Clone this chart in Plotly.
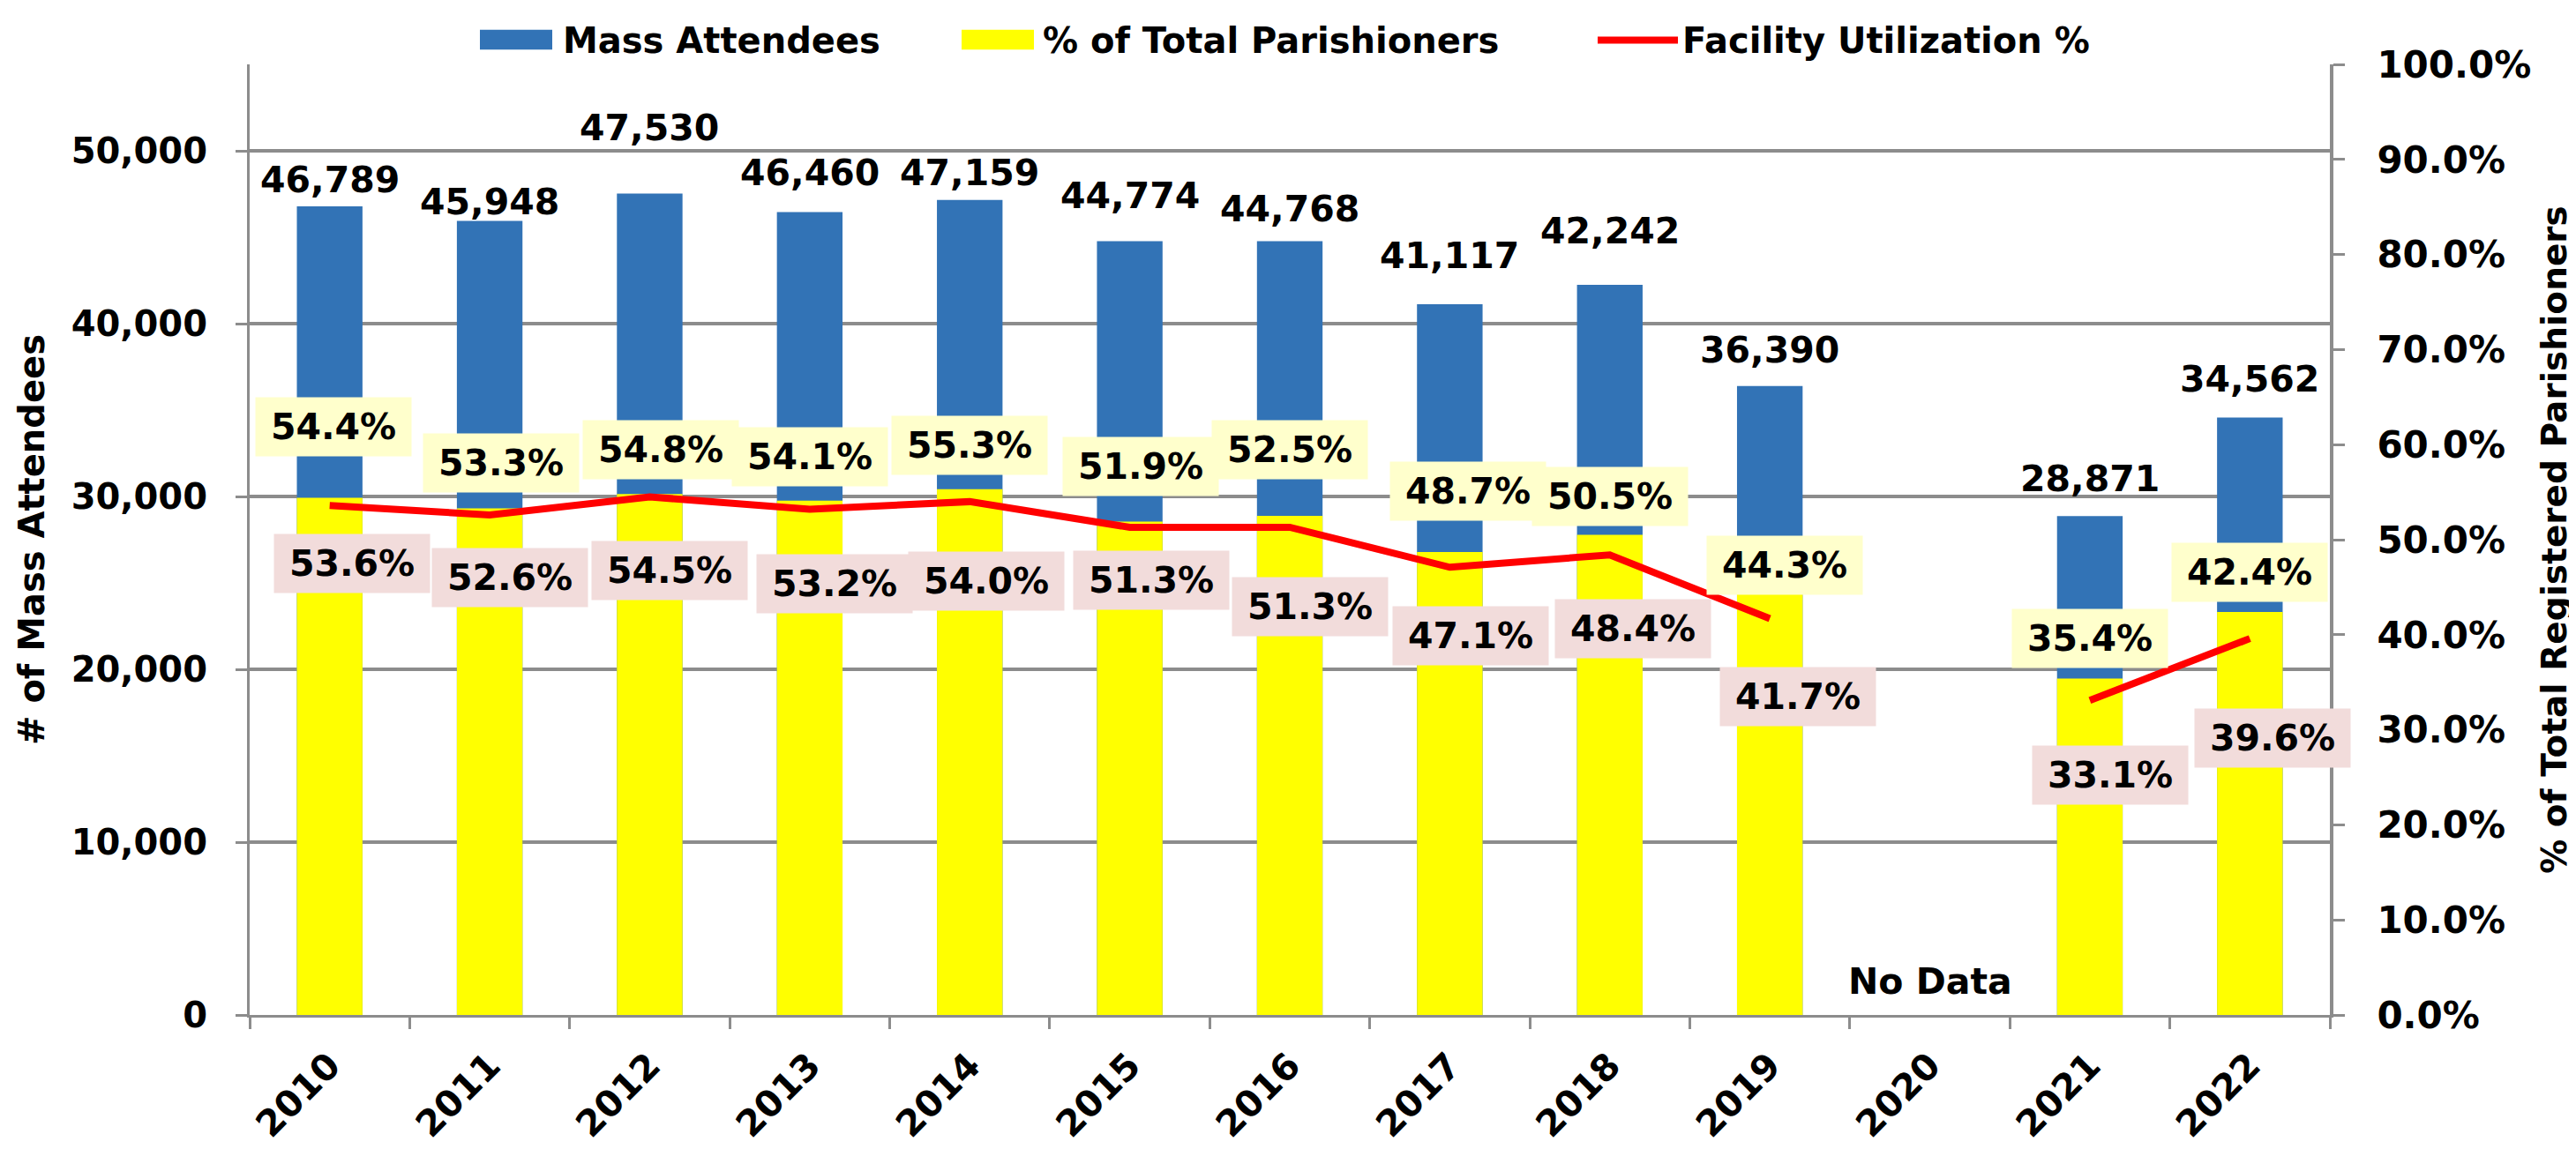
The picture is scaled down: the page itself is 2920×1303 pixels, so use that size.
import plotly.graph_objects as go

# ---------------- data ----------------
years = ["2010", "2011", "2012", "2013", "2014", "2015", "2016",
         "2017", "2018", "2019", "2020", "2021", "2022"]
mass_attendees = [46789, 45948, 47530, 46460, 47159, 44774, 44768,
                  41117, 42242, 36390, None, 28871, 34562]
pct_total_parishioners = [54.4, 53.3, 54.8, 54.1, 55.3, 51.9, 52.5,
                          48.7, 50.5, 44.3, None, 35.4, 42.4]
facility_utilization = [53.6, 52.6, 54.5, 53.2, 54.0, 51.3, 51.3,
                        47.1, 48.4, 41.7, None, 33.1, 39.6]
no_data_year = "2020"

# ---------------- layout constants ----------------
W, H = 2920, 1303
L, R, T, B = 275, 287, 65, 140
PW, PH = W - L - R, H - T - B
FONT = "DejaVu Sans"
BLUE = "#3273B6"
YELLOW = "#FFFF00"
RED = "#FF0000"
GRID = "#8C8C8C"

# label pixel offsets (manual placement as in the source chart)
blue_dy = [30, 21, 74, 44, 31, 51, 37, 55, 61, 41, 0, 42, 44]
yel_dy = [81, 51, 50, 50, 50, 63, 75, 69, 44, 32, 0, 45, 45]
yel_dx = [4, 13, 13, 0, 0, 12, 0, 21, 0, 17, 0, 0, 0]
red_dy = [-66, -71, -84, -84, -90, -60, -90, -78, -84, -89, 0, -85, -113]
red_dx = [25, 23, 23, 28, 19, 24, 23, 24, 26, 32, 0, 23, 26]

fig = go.Figure()
fig.add_trace(go.Bar(x=years, y=mass_attendees, name="Mass Attendees",
                     marker=dict(color=BLUE, line=dict(width=0)), width=0.41,
                     yaxis="y", showlegend=False))
fig.add_trace(go.Bar(x=years, y=pct_total_parishioners, name="% of Total Parishioners",
                     marker=dict(color=YELLOW, line=dict(width=0)), width=0.41,
                     yaxis="y2", showlegend=False))
fig.add_trace(go.Scatter(x=years, y=facility_utilization, name="Facility Utilization %",
                         mode="lines", line=dict(color=RED, width=8),
                         yaxis="y2", connectgaps=False, showlegend=False))

ann = []
lab_font = dict(family=FONT, size=41, color="black", weight="bold")
for i, yr in enumerate(years):
    if mass_attendees[i] is not None:
        ann.append(dict(x=i, y=mass_attendees[i], xref="x", yref="y",
                        text=f"{mass_attendees[i]:,}", showarrow=False,
                        yanchor="middle", yshift=blue_dy[i], font=lab_font))
    if pct_total_parishioners[i] is not None:
        ann.append(dict(x=i, y=pct_total_parishioners[i], xref="x", yref="y2",
                        text=f"{pct_total_parishioners[i]:.1f}%", showarrow=False,
                        yanchor="middle", xshift=yel_dx[i], yshift=yel_dy[i],
                        bgcolor="#FFFFCC", width=174, height=64, font=lab_font))
    if facility_utilization[i] is not None:
        ann.append(dict(x=i, y=facility_utilization[i], xref="x", yref="y2",
                        text=f"{facility_utilization[i]:.1f}%", showarrow=False,
                        yanchor="middle", xshift=red_dx[i], yshift=red_dy[i],
                        bgcolor="#F2DCDB", width=174, height=64, font=lab_font))

ann.append(dict(x=years.index(no_data_year), y=0, xref="x", yref="y", text="No Data",
                showarrow=False, yanchor="bottom", yshift=12, font=lab_font))

# custom legend (pixel -> paper helpers)
def px(xp):
    return (xp - L) / PW

def py(yp):
    return (H - B - yp) / PH

shapes = [
    dict(type="rect", xref="paper", yref="paper", x0=px(536), x1=px(618),
         y0=py(48), y1=py(25), fillcolor=BLUE, line=dict(width=0)),
    dict(type="rect", xref="paper", yref="paper", x0=px(1082), x1=px(1164),
         y0=py(48), y1=py(25), fillcolor=YELLOW, line=dict(width=0)),
    dict(type="line", xref="paper", yref="paper", x0=px(1803), x1=px(1894),
         y0=py(37), y1=py(37), line=dict(color=RED, width=8)),
]
leg_font = dict(family=FONT, size=40, color="black", weight="bold")
for xt, txt in [(628, "Mass Attendees"), (1172, "% of Total Parishioners"),
                (1897, "Facility Utilization %")]:
    ann.append(dict(x=px(xt), y=py(37), xref="paper", yref="paper", text=txt,
                    showarrow=False, xanchor="left", yanchor="middle", font=leg_font))

fig.update_layout(
    width=W, height=H, autosize=False,
    margin=dict(l=L, r=R, t=T, b=B, pad=0),
    paper_bgcolor="white", plot_bgcolor="white",
    font=dict(family=FONT, size=41, color="black", weight="bold"),
    barmode="overlay",
    annotations=ann, shapes=shapes,
    xaxis=dict(type="category", categoryorder="array", categoryarray=years,
               range=[-0.5, len(years) - 0.5], autorange=False,
               showline=True, linecolor=GRID, linewidth=3,
               ticks="outside", tickson="boundaries", ticklen=13, tickwidth=3,
               tickcolor=GRID, tickangle=-45, ticklabelstandoff=14,
               tickfont=dict(family=FONT, size=41, color="black", weight="bold"),
               showgrid=False, zeroline=False),
    yaxis=dict(range=[0, 55000], autorange=False, dtick=10000, tickformat=",",
               showline=True, linecolor=GRID, linewidth=3,
               ticks="outside", ticklen=13, tickwidth=3, tickcolor=GRID,
               ticklabelstandoff=24,
               showgrid=True, gridcolor=GRID, gridwidth=4, zeroline=False,
               tickfont=dict(family=FONT, size=40, color="black", weight="bold"),
               title=dict(text="# of Mass Attendees", standoff=18,
                          font=dict(family=FONT, size=40, color="black", weight="bold"))),
    yaxis2=dict(range=[0, 100], autorange=False, dtick=10, tickformat=".1f", ticksuffix="%",
                overlaying="y", side="right",
                showline=True, linecolor=GRID, linewidth=4,
                ticks="outside", ticklen=13, tickwidth=3, tickcolor=GRID,
                ticklabelstandoff=28,
                showgrid=False, zeroline=False,
                tickfont=dict(family=FONT, size=42, color="black", weight="bold"),
                title=dict(text="% of Total Registered Parishioners", standoff=14,
                           font=dict(family=FONT, size=39, color="black", weight="bold"))),
)

fig.write_html("out.html")
